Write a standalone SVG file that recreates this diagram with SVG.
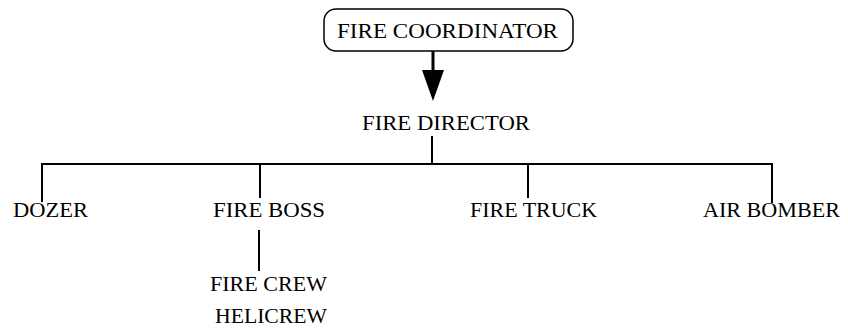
<svg xmlns="http://www.w3.org/2000/svg" width="848" height="331" viewBox="0 0 848 331">
<style>
text{font-family:"Liberation Serif","Times New Roman",serif;font-size:22px;fill:#000}
.ln{stroke:#000;stroke-width:2;fill:none}
</style>
<rect width="848" height="331" fill="#fff"/>
<g id="connectors">
<line class="ln" x1="433" y1="51" x2="433" y2="72" style="stroke-width:3"/>
<path d="M422,70 L444,70 L433,101 Z" fill="#000"/>
<line class="ln" x1="432" y1="136" x2="432" y2="164"/>
<polyline class="ln" points="42,202 42,164 772,164 772,203"/>
<line class="ln" x1="260" y1="164" x2="260" y2="198"/>
<line class="ln" x1="528" y1="164" x2="528" y2="198"/>
<line class="ln" x1="259" y1="230" x2="259" y2="271"/>
</g>
<g id="fire-coordinator">
<rect x="324" y="9" width="249" height="42" rx="12" ry="12" fill="none" stroke="#000" stroke-width="1.5"/>
<text x="337" y="38" textLength="221" lengthAdjust="spacingAndGlyphs">FIRE COORDINATOR</text>
</g>
<g id="fire-director"><text x="362" y="130" textLength="168" lengthAdjust="spacingAndGlyphs">FIRE DIRECTOR</text></g>
<g id="dozer"><text x="13" y="217" textLength="75" lengthAdjust="spacingAndGlyphs">DOZER</text></g>
<g id="fire-boss"><text x="213" y="217" textLength="112" lengthAdjust="spacingAndGlyphs">FIRE BOSS</text></g>
<g id="fire-truck"><text x="470" y="217" textLength="127" lengthAdjust="spacingAndGlyphs">FIRE TRUCK</text></g>
<g id="air-bomber"><text x="703" y="217" textLength="137" lengthAdjust="spacingAndGlyphs">AIR  BOMBER</text></g>
<g id="fire-crew"><text x="210" y="291" textLength="117" lengthAdjust="spacingAndGlyphs">FIRE CREW</text></g>
<g id="helicrew"><text x="215" y="323" textLength="112" lengthAdjust="spacingAndGlyphs">HELICREW</text></g>
</svg>
